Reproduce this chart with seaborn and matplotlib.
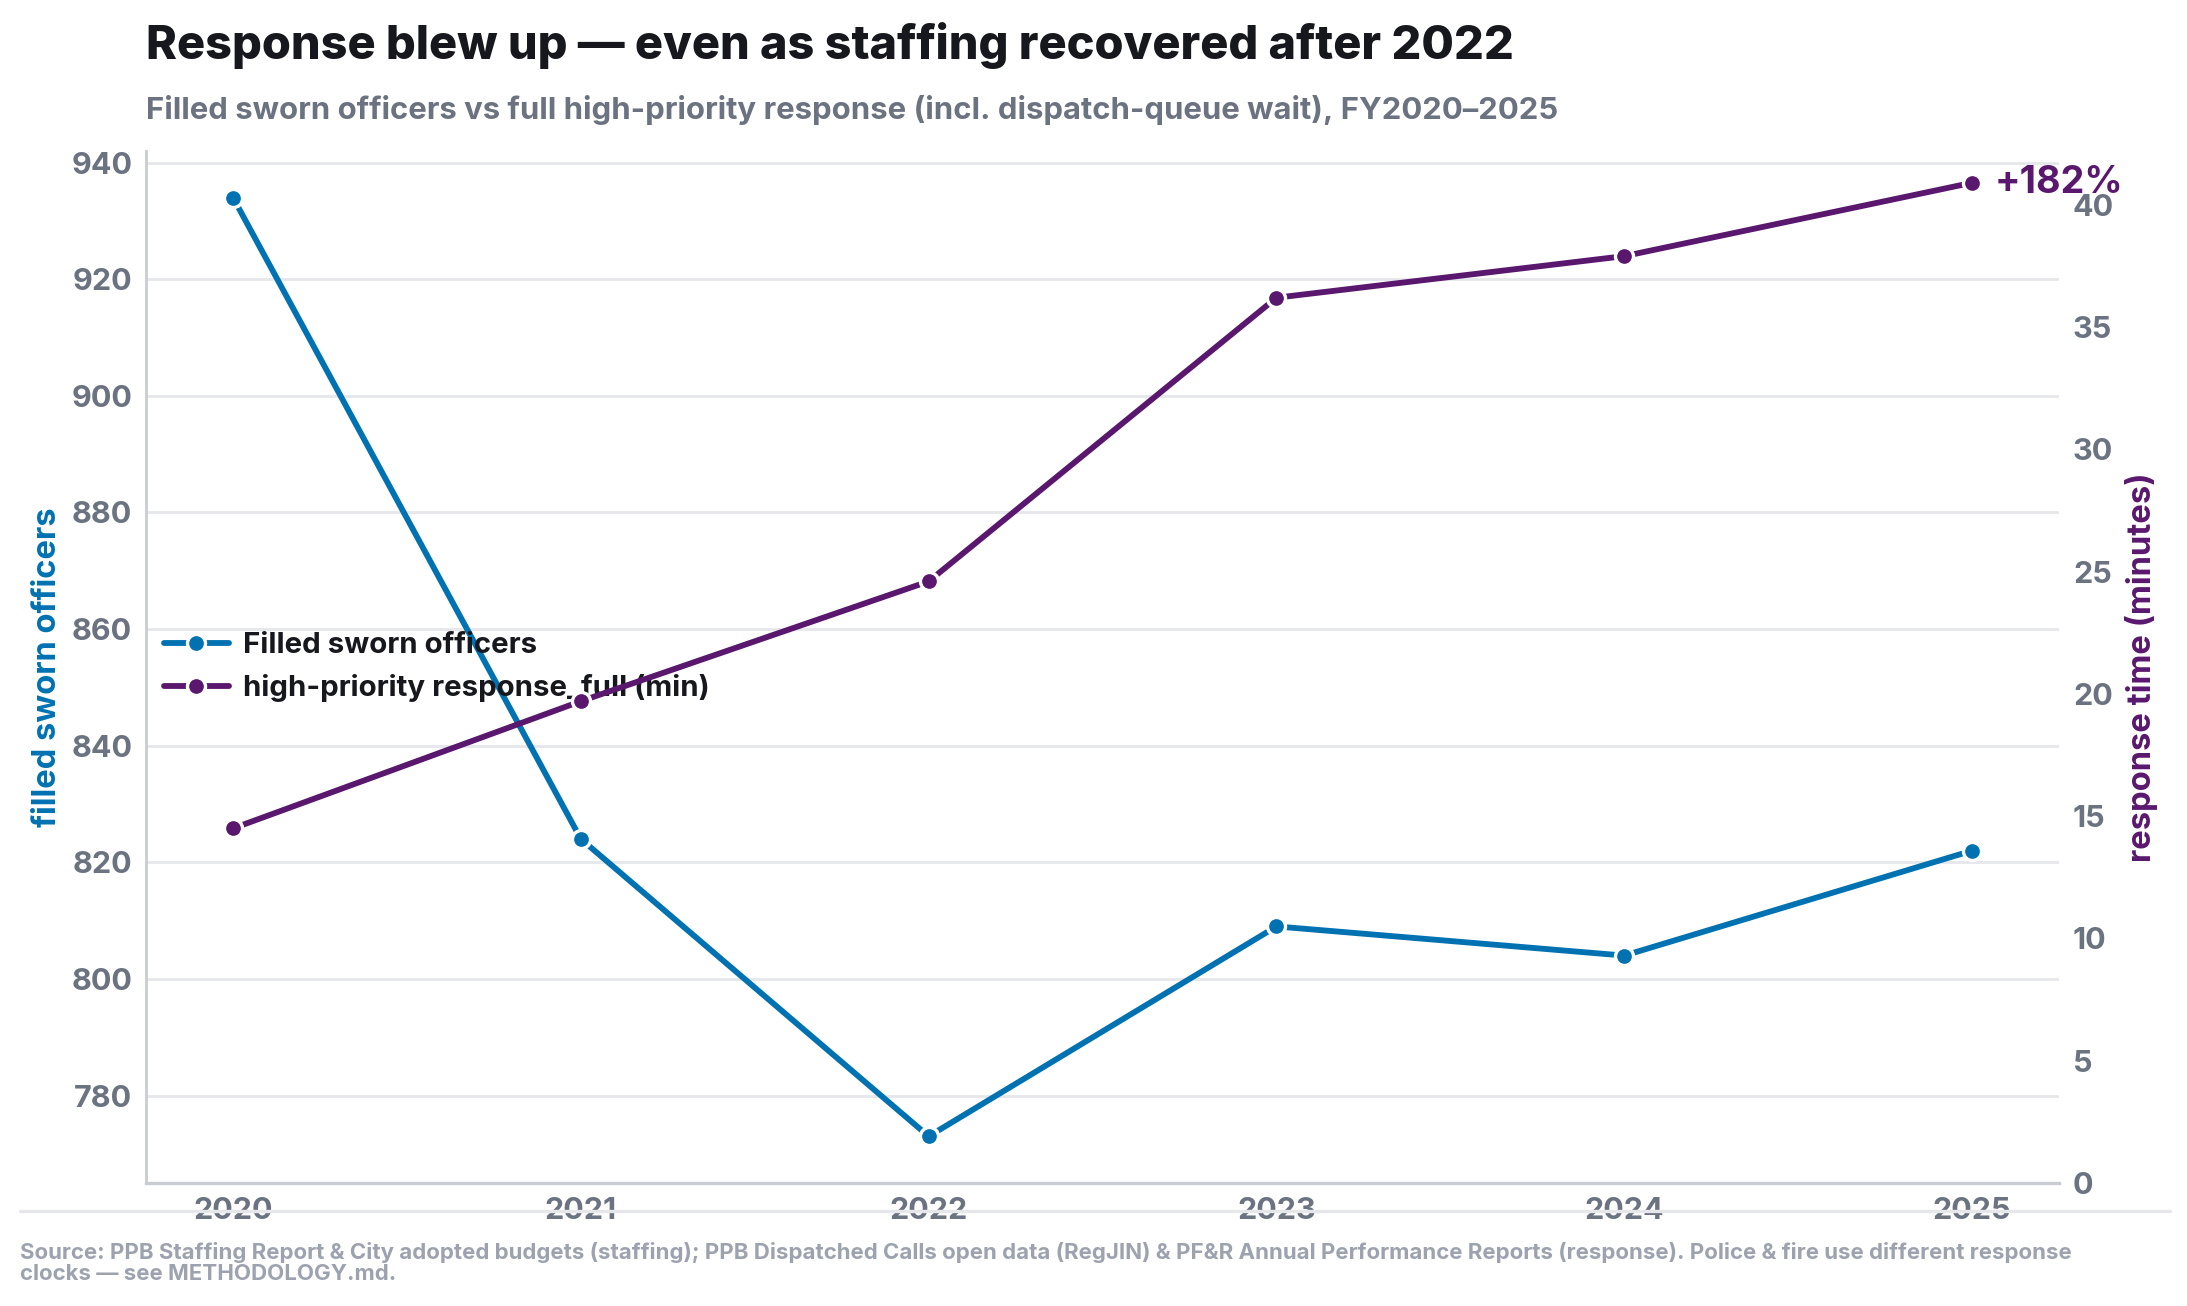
import pandas as pd
import seaborn as sns
import matplotlib.pyplot as plt
from matplotlib.lines import Line2D

# Values
years = [2020, 2021, 2022, 2023, 2024, 2025]
sworn_officers = [934, 824, 773, 809, 804, 822]
response_full_min = [14.5, 19.7, 24.6, 36.2, 37.9, 40.9]
right_ticks = [0, 5, 10, 15, 20, 25, 30, 35, 40]

BLUE = '#0072b2'
PURPLE = '#5a176e'
GRAY = '#6b7280'
DARK = '#16181d'

sns.set_theme(style='white')
plt.rcParams['font.family'] = ['Inter', 'DejaVu Sans']

df = pd.DataFrame({'year': years, 'officers': sworn_officers, 'response': response_full_min})

fig = plt.figure(figsize=(10.935, 6.53), dpi=200)
ax1 = fig.add_axes([0.0668, 0.0942, 0.8747, 0.7902])
ax2 = ax1.twinx()

sns.lineplot(data=df, x='year', y='officers', ax=ax1, color=BLUE, linewidth=2.1,
             marker='o', markersize=6.5, markeredgecolor='white', markeredgewidth=1.2,
             label='Filled sworn officers', legend=False)
sns.lineplot(data=df, x='year', y='response', ax=ax2, color=PURPLE, linewidth=2.1,
             marker='o', markersize=6.5, markeredgecolor='white', markeredgewidth=1.2,
             label='high-priority response_full (min)', legend=False)

ax1.set_xlim(2019.75, 2025.25)
ax1.set_ylim(765, 942)
ax2.set_ylim(0, 42.2)
ax1.set_xticks(years)
ax1.set_xticklabels([str(y) for y in years])
ax2.set_yticks(right_ticks)

ax1.yaxis.grid(True, color='#e6e7eb', linewidth=1)
ax1.xaxis.grid(False)
ax2.grid(False)

for ax in (ax1, ax2):
    for s in ax.spines.values():
        s.set_visible(False)
ax1.spines['left'].set_visible(True)
ax1.spines['bottom'].set_visible(True)
ax1.spines['left'].set_color('#c9ccd3')
ax1.spines['bottom'].set_color('#c9ccd3')
ax1.spines['left'].set_linewidth(1)
ax1.spines['bottom'].set_linewidth(1.2)

ax1.tick_params(axis='both', length=0, labelsize=11, labelcolor=GRAY, pad=5)
ax2.tick_params(axis='y', length=0, labelsize=11, labelcolor=GRAY, pad=5)
for lab in ax1.get_xticklabels() + ax1.get_yticklabels() + ax2.get_yticklabels():
    lab.set_fontweight('bold')

ax1.set_xlabel('')
ax1.set_ylabel('filled sworn officers', color=BLUE, fontsize=11.8, fontweight='bold', labelpad=3)
ax2.set_ylabel('response time (minutes)', color=PURPLE, fontsize=11.8, fontweight='bold', labelpad=4)

# legend on the lower axes, so the twin lines sit on top of it
h1, l1 = ax1.get_legend_handles_labels()
h2, l2 = ax2.get_legend_handles_labels()
leg = ax1.legend(h1 + h2, l1 + l2, loc='center left', frameon=False, fontsize=10.6,
                 handlelength=2.2, handletextpad=0.5, borderaxespad=0.2)
for t in leg.get_texts():
    t.set_fontweight('bold')
    t.set_color(DARK)

pct = (response_full_min[-1] / response_full_min[0] - 1) * 100
ax2.annotate(f'+{pct:.0f}%', xy=(years[-1], response_full_min[-1]), xytext=(8, 0),
             textcoords='offset points', va='center', ha='left', color=PURPLE,
             fontsize=13.6, fontweight='bold', annotation_clip=False)

fig.text(0.0668, 0.965, 'Response blew up \u2014 even as staffing recovered after 2022',
         fontsize=16.9, fontweight='heavy', color=DARK, va='center', ha='left')
fig.text(0.0668, 0.916, 'Filled sworn officers vs full high-priority response (incl. dispatch-queue wait), FY2020\u20132025',
         fontsize=11.2, fontweight='bold', color=GRAY, va='center', ha='left')

fig.add_artist(Line2D([0.009, 0.992], [0.0726, 0.0726], color='#e6e7eb', linewidth=1.2,
                      transform=fig.transFigure))
fig.text(0.009, 0.033,
         'Source: PPB Staffing Report & City adopted budgets (staffing); PPB Dispatched Calls open data (RegJIN) & '
         'PF&R Annual Performance Reports (response). Police & fire use different response\n'
         'clocks \u2014 see METHODOLOGY.md.',
         fontsize=8.0, fontweight='bold', color='#9ca3af', va='center', ha='left', linespacing=1.05)

fig.savefig('out.png', dpi=200)
